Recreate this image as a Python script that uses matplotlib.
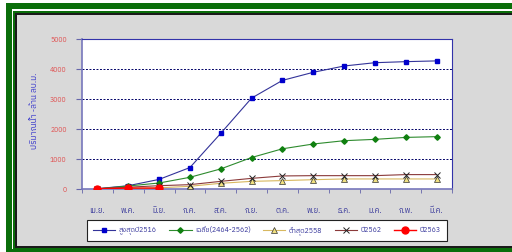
import matplotlib
matplotlib.use("Agg")
import matplotlib.pyplot as plt
from matplotlib.patches import Rectangle
from matplotlib import font_manager as fm

names = sorted({f.name for f in fm.fontManager.ttflist})
thai = [n for n in names if 'Thai' in n or 'Sarabun' in n or 'Loma' in n or 'Garuda' in n or 'Tlwg' in n or 'Kinnari' in n]
plt.rcParams['font.family'] = thai + ['DejaVu Sans']

months = ['เม.ย.', 'พ.ค.', 'มิ.ย.', 'ก.ค.', 'ส.ค.', 'ก.ย.', 'ต.ค.', 'พ.ย.', 'ธ.ค.', 'ม.ค.', 'ก.พ.', 'มี.ค.']
max_2516 = [10, 110, 320, 715, 1855, 3030, 3620, 3890, 4100, 4210, 4245, 4270]
avg_2464_2562 = [5, 100, 200, 390, 670, 1050, 1340, 1500, 1610, 1655, 1720, 1745]
min_2558 = [0, 20, 40, 90, 190, 255, 280, 310, 335, 335, 335, 335]
y2562 = [10, 60, 110, 145, 255, 355, 435, 445, 445, 445, 480, 480]
y2563 = [10, 30, 30]
labels = ['สูงสุดปี2516', 'เฉลี่ย(2464-2562)', 'ต่ำสุด2558', 'ปี2562', 'ปี2563']
yticks = [0, 1000, 2000, 3000, 4000, 5000]
ylabel = 'ปริมาณน้ำ -ล้าน ลบ.ม.'

W, H = 512, 252
fig = plt.figure(figsize=(W/100, H/100), dpi=100, facecolor='white')

def rect(x0, y0, x1, y1, **kw):
    fig.patches.append(Rectangle((x0/W, 1 - y1/H), (x1-x0)/W, (y1-y0)/H,
                                 transform=fig.transFigure, zorder=-10, **kw))

# frame
rect(6, 3, 512, 252, facecolor='#0a6e0a', edgecolor='none')
rect(12, 9, 512, 249, facecolor='white', edgecolor='none')
rect(13, 11, 512, 249, facecolor='#0a6e0a', edgecolor='none')
rect(15, 13, 512, 248, facecolor='#1a1a1a', edgecolor='none')
rect(17, 15, 512, 246, facecolor='#d9d9d9', edgecolor='none')

ax = fig.add_axes([82/W, 1 - 189/H, (452-82)/W, (189-39)/H])
ax.set_facecolor('white')
x = list(range(len(months)))

ax.plot(x, max_2516, color='#333399', lw=0.8, marker='s', ms=3.5,
        mfc='#0000cc', mec='#0000cc', label=labels[0], zorder=3)
ax.plot(x, avg_2464_2562, color='#2e8b2e', lw=0.8, marker='D', ms=2.8,
        mfc='#108010', mec='#108010', label=labels[1], zorder=3)
ax.plot(x, min_2558, color='#d8b860', lw=0.8, marker='^', ms=4,
        mfc='#f0e080', mec='#333333', mew=0.5, label=labels[2], zorder=3)
ax.plot(x, y2562, color='#8b3a3a', lw=0.8, marker='x', ms=4,
        mec='#222222', mew=0.7, label=labels[3], zorder=3)
ax.plot(range(len(y2563)), y2563, color='#ff0000', lw=1.0, marker='o', ms=5,
        mfc='#ff0000', mec='#ff0000', label=labels[4], zorder=4)

ax.set_xlim(-0.5, len(months) - 0.5)
ax.set_ylim(0, 5000)
ax.set_yticks(yticks)
ax.set_yticklabels([str(v) for v in yticks], color='#e05050', fontsize=5)
ax.set_xticks(x)
ax.set_xticklabels(months, color='#333399', fontsize=5.5)
ax.tick_params(axis='x', length=0, pad=13)
ax.set_xticks([i + 0.5 for i in range(-1, len(months))], minor=True)
ax.tick_params(axis='x', which='minor', length=3, color='#6666aa', direction='out')
ax.tick_params(axis='y', length=4, color='#6666aa', pad=7)
for v in yticks[1:-1]:
    ax.axhline(v, color='#000066', lw=0.7, ls=(0, (2, 1.6)), zorder=1)
for s in ax.spines.values():
    s.set_color('#3333aa')
    s.set_linewidth(0.8)
ax.spines['left'].set_color('#7777bb')
ax.spines['bottom'].set_color('#7777bb')
ax.spines['left'].set_linewidth(1.2)
ax.spines['bottom'].set_linewidth(1.2)

fig.text(35/W, 1 - 111/H, ylabel, rotation=90, color='#3333cc', fontsize=6,
         ha='center', va='center')

leg = fig.legend(loc='center', bbox_to_anchor=((87+447)/2/W, 1 - 230.5/H),
                 ncol=5, fontsize=5, frameon=True, fancybox=False,
                 handlelength=3.2, columnspacing=1.8, borderpad=0.9,
                 handletextpad=0.5)
leg.get_frame().set_edgecolor('#222222')
leg.get_frame().set_linewidth(0.8)
leg.get_frame().set_facecolor('white')
leg.get_frame().set_alpha(1)
for t in leg.get_texts():
    t.set_color('#333399')

fig.savefig('out.png', dpi=100, facecolor='white')
